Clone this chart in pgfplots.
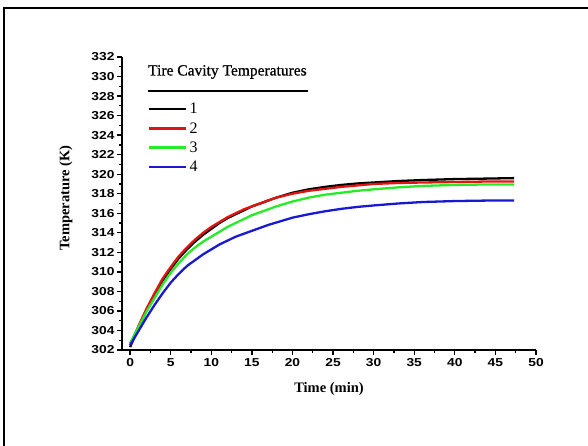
\documentclass[border=0pt]{standalone}
\usepackage{fontspec}
\setmainfont{Liberation Serif}
\newfontfamily\ticksans[FakeStretch=1.2]{Liberation Sans}
\newfontfamily\titleserif[FakeBold=0.8]{Liberation Serif}
\usepackage{pgfplots}
\pgfplotsset{compat=1.18}

\definecolor{cRed}{RGB}{225,20,20}
\definecolor{cGreen}{RGB}{40,235,40}
\definecolor{cBlue}{RGB}{25,25,210}

% Tire cavity temperatures (K) against time (min)
\begin{document}
\begin{tikzpicture}[x=1pt,y=1pt]
\useasboundingbox (0,0) rectangle (588,446);
\draw[line width=1.5pt] (4,0) -- (4,438) -- (588,438);
\begin{axis}[
    at={(122pt,96pt)}, anchor=south west,
    width=414pt, height=293pt, scale only axis,
    xmin=-1, xmax=50, ymin=302, ymax=332,
    axis x line*=bottom, axis y line*=left,
    axis line style={line width=1.5pt},
    xtick={0,5,...,50}, ytick={302,304,...,332},
    minor x tick num=1, minor y tick num=1,
    tick align=outside,
    major tick length=5pt, minor tick length=3pt,
    every tick/.style={black, line width=1.3pt},
    /pgf/number format/assume math mode=true,
    tick label style={font=\ticksans\bfseries\fontsize{11.5}{13}\selectfont},
    yticklabel style={xshift=1pt},
    xlabel={Time (min)},
    ylabel={Temperature (K)},
    every axis x label/.style={at={(axis description cs:0.5,0)}, anchor=center, yshift=-39pt,
        font=\bfseries\fontsize{14.5}{16}\selectfont},
    every axis y label/.style={at={(axis description cs:-0.1353,0.519)}, rotate=90, anchor=center,
        font=\bfseries\fontsize{14.5}{16}\selectfont},
    legend image code/.code={\draw[#1, line width=2.6pt] (0pt,0pt) -- (37pt,0pt);},
    legend style={draw=none, fill=none, inner sep=0pt, outer sep=0pt,
        at={(0.0628,0.8396)}, anchor=north west, row sep=9.3pt,
        nodes={inner xsep=2pt, inner ysep=0pt, text height=10pt, text depth=0pt,
            font=\rmfamily\fontsize{16}{18}\selectfont}},
    legend cell align=left,
    every axis plot/.append style={line width=2.3pt},
]
\addplot[black] coordinates {
(0,302.3) (1,304.2) (2,306.0) (3,307.6) (4,309.1) (5,310.3) (6,311.4) (7,312.3)
(8,313.1) (9,313.8) (10,314.4) (11,315.0) (12,315.5) (13,315.9) (14,316.3)
(15,316.7) (16,317.0) (17,317.3) (18,317.6) (19,317.85) (20,318.1) (22,318.45)
(24,318.7) (26,318.9) (28,319.05) (30,319.15) (33,319.3) (36,319.4) (40,319.5)
(44,319.55) (47.3,319.6)};
\addlegendentry{1}
\addplot[cRed] coordinates {
(0,302.5) (1,304.4) (2,306.2) (3,307.8) (4,309.3) (5,310.5) (6,311.6) (7,312.5)
(8,313.3) (9,314.0) (10,314.6) (11,315.1) (12,315.6) (13,316.0) (14,316.4)
(15,316.7) (16,317.0) (17,317.3) (18,317.6) (19,317.8) (20,318.0) (22,318.3)
(24,318.5) (26,318.7) (28,318.85) (30,319.0) (33,319.1) (36,319.15) (40,319.2)
(44,319.25) (47.3,319.25)};
\addlegendentry{2}
\addplot[cGreen] coordinates {
(0,302.7) (1,304.3) (2,305.9) (3,307.3) (4,308.7) (5,309.9) (6,310.9) (7,311.8)
(8,312.5) (9,313.1) (10,313.6) (11,314.1) (12,314.6) (13,315.0) (14,315.4)
(15,315.8) (16,316.1) (17,316.4) (18,316.7) (19,316.95) (20,317.2) (22,317.6)
(24,317.9) (26,318.1) (28,318.3) (30,318.45) (33,318.65) (36,318.8) (40,318.9)
(44,318.95) (47.3,318.95)};
\addlegendentry{3}
\addplot[cBlue] coordinates {
(0,302.5) (1,303.9) (2,305.3) (3,306.6) (4,307.8) (5,308.9) (6,309.8) (7,310.6)
(8,311.2) (9,311.8) (10,312.3) (11,312.8) (12,313.2) (13,313.6) (14,313.9)
(15,314.2) (16,314.5) (17,314.8) (18,315.05) (19,315.3) (20,315.55) (22,315.9)
(24,316.2) (26,316.45) (28,316.65) (30,316.8) (33,317.0) (36,317.15) (40,317.25)
(44,317.3) (47.3,317.3)};
\addlegendentry{4}
\end{axis}
\node[anchor=west, inner sep=0pt, font=\titleserif\fontsize{15.5}{17}\selectfont] at (148,374) {Tire Cavity Temperatures};
\draw[line width=1.3pt] (148,355) -- (308,355);
\end{tikzpicture}
\end{document}
